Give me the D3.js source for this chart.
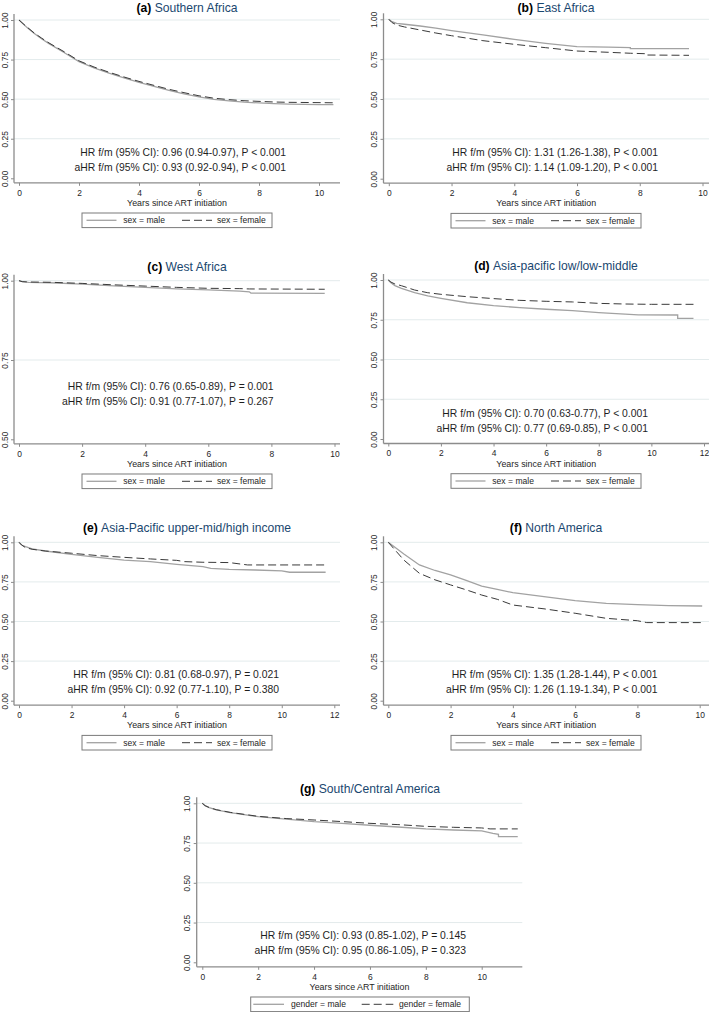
<!DOCTYPE html>
<html><head><meta charset="utf-8">
<script src="https://cdn.jsdelivr.net/npm/d3@7"></script>
<style>
body{margin:0;background:#fff}
svg{display:block}
text{font-family:"Liberation Sans",Arial,Helvetica,sans-serif}
</style>
</head><body>
<svg id="chart" width="709" height="1012"></svg>
<script>
// ---------------- DATA ----------------
const panelLetters = ["(a)","(b)","(c)","(d)","(e)","(f)","(g)"];
const regionNames = ["Southern Africa","East Africa","West Africa","Asia-pacific low/low-middle",
  "Asia-Pacific upper-mid/high income","North America","South/Central America"];
const hrLines = [
  "HR f/m (95% CI): 0.96 (0.94-0.97), P < 0.001",
  "HR f/m (95% CI): 1.31 (1.26-1.38), P < 0.001",
  "HR f/m (95% CI): 0.76 (0.65-0.89), P = 0.001",
  "HR f/m (95% CI): 0.70 (0.63-0.77), P < 0.001",
  "HR f/m (95% CI): 0.81 (0.68-0.97), P = 0.021",
  "HR f/m (95% CI): 1.35 (1.28-1.44), P < 0.001",
  "HR f/m (95% CI): 0.93 (0.85-1.02), P = 0.145"];
const ahrLines = [
  "aHR f/m (95% CI): 0.93 (0.92-0.94), P < 0.001",
  "aHR f/m (95% CI): 1.14 (1.09-1.20), P < 0.001",
  "aHR f/m (95% CI): 0.91 (0.77-1.07), P = 0.267",
  "aHR f/m (95% CI): 0.77 (0.69-0.85), P < 0.001",
  "aHR f/m (95% CI): 0.92 (0.77-1.10), P = 0.380",
  "aHR f/m (95% CI): 1.26 (1.19-1.34), P < 0.001",
  "aHR f/m (95% CI): 0.95 (0.86-1.05), P = 0.323"];
const maleLabels = ["sex = male","sex = male","sex = male","sex = male","sex = male","sex = male","gender = male"];
const femaleLabels = ["sex = female","sex = female","sex = female","sex = female","sex = female","sex = female","gender = female"];
const xAxisTitle = "Years since ART initiation";

const xTicks10 = [0,2,4,6,8,10];
const xTicks12 = [0,2,4,6,8,10,12];
const yTicksFull = [0,0.25,0.5,0.75,1];
const yTicksHalf = [0.5,0.75,1];

const maleA = [[0,1],[0.1,0.982],[0.25,0.956],[0.5,0.916],[0.75,0.882],[1,0.851],[1.5,0.795],[2,0.737],[2.5,0.698],[3,0.664],[3.5,0.634],[4,0.606],[4.5,0.581],[5,0.556],[5.5,0.534],[6,0.514],[6.5,0.499],[7,0.489],[7.5,0.481],[8,0.476],[8.5,0.472],[9,0.469],[9.5,0.467],[10,0.466],[10.48,0.465]];
const femaleA = [[0,1],[0.1,0.983],[0.25,0.958],[0.5,0.919],[0.75,0.886],[1,0.855],[1.5,0.8],[2,0.742],[2.5,0.703],[3,0.67],[3.5,0.64],[4,0.612],[4.5,0.587],[5,0.562],[5.5,0.541],[6,0.521],[6.5,0.506],[7,0.497],[7.5,0.49],[8,0.486],[8.5,0.482],[9,0.48],[9.5,0.479],[10,0.478],[10.48,0.477]];

const maleB = [[0,1],[0.1,0.985],[0.25,0.975],[0.5,0.969],[1,0.958],[1.5,0.944],[2,0.929],[3,0.902],[4,0.874],[5,0.849],[6,0.828],[7,0.826],[7.7,0.822],[7.7,0.816],[9.57,0.816]];
const femaleB = [[0,1],[0.1,0.98],[0.25,0.964],[0.5,0.952],[1,0.933],[1.5,0.914],[2,0.897],[3,0.866],[4,0.843],[5,0.822],[6,0.801],[7,0.793],[7.7,0.787],[8.2,0.784],[8.2,0.776],[9.57,0.774]];

const maleC = [[0,1],[0.1,0.997],[0.3,0.995],[1,0.9935],[2,0.9895],[3,0.984],[4,0.979],[5,0.974],[6,0.971],[7,0.967],[7.3,0.965],[7.35,0.961],[9.69,0.96]];
const femaleC = [[0,1],[0.1,0.997],[0.3,0.996],[1,0.995],[2,0.9915],[3,0.987],[4,0.983],[5,0.979],[6,0.976],[7,0.975],[7.3,0.974],[9.69,0.973]];

const maleD = [[0,1],[0.1,0.982],[0.25,0.965],[0.5,0.948],[1,0.92],[1.5,0.9],[2,0.885],[3,0.857],[4,0.839],[5,0.826],[6,0.816],[7,0.807],[8,0.795],[9,0.786],[9.5,0.781],[11,0.78],[11,0.759],[11.6,0.759]];
const femaleD = [[0,1],[0.1,0.987],[0.25,0.975],[0.5,0.964],[1,0.937],[1.5,0.92],[2,0.91],[3,0.895],[4,0.883],[5,0.872],[6,0.866],[7,0.862],[8,0.853],[9,0.849],[10,0.847],[11.6,0.847]];

const maleE = [[0,1],[0.1,0.983],[0.25,0.973],[0.5,0.958],[1,0.945],[2,0.924],[3,0.905],[4,0.888],[5,0.878],[6,0.861],[7,0.846],[7.3,0.836],[8,0.829],[9,0.825],[10,0.819],[10.3,0.811],[11.67,0.811]];
const femaleE = [[0,1],[0.1,0.983],[0.25,0.966],[0.5,0.956],[1,0.945],[2,0.931],[3,0.916],[4,0.905],[5,0.895],[6,0.886],[6.3,0.878],[7,0.874],[8,0.872],[8.7,0.857],[11.67,0.857]];

const maleF = [[0,1],[0.5,0.926],[1,0.857],[1.5,0.822],[2,0.794],[2.5,0.759],[3,0.724],[3.5,0.703],[4,0.682],[5,0.657],[6,0.632],[7,0.615],[8,0.606],[9,0.6],[10.08,0.598]];
const femaleF = [[0,1],[0.5,0.888],[1,0.804],[1.5,0.763],[2,0.731],[2.5,0.7],[3,0.667],[3.5,0.64],[4,0.604],[5,0.58],[6,0.552],[7,0.52],[8,0.505],[8.3,0.493],[10.08,0.493]];

const maleG = [[0,1],[0.1,0.985],[0.25,0.973],[0.5,0.958],[1,0.941],[2,0.916],[3,0.901],[4,0.885],[5,0.874],[6,0.862],[7,0.851],[8,0.839],[9,0.832],[10,0.826],[10.4,0.811],[10.6,0.805],[10.6,0.79],[11.29,0.79]];
const femaleG = [[0,1],[0.1,0.985],[0.25,0.973],[0.5,0.96],[1,0.943],[2,0.918],[3,0.904],[4,0.895],[5,0.885],[6,0.874],[7,0.866],[8,0.855],[9,0.849],[10,0.845],[10.3,0.839],[11.29,0.839]];

const maleSeries = [maleA,maleB,maleC,maleD,maleE,maleF,maleG];
const femaleSeries = [femaleA,femaleB,femaleC,femaleD,femaleE,femaleF,femaleG];
const xTickSets = [xTicks10,xTicks10,xTicks10,xTicks12,xTicks12,xTicks10,xTicks10];
const yTickSets = [yTicksFull,yTicksFull,yTicksHalf,yTicksFull,yTicksFull,yTicksFull,yTicksFull];

// ---------------- LAYOUT (pixels) ----------------
const layout = [
  {axisX:14,   x0:19,    xTm:319,   right:340,   yTop:20,    yBot:178.3, titleX:187, hrX:286,   hrY:151.7, legX:82,    legW:190},
  {axisX:383.5,x0:388.8, xTm:702.5, right:709,   yTop:19.3,  yBot:178.7, titleX:556, hrX:658,   hrY:151.7, legX:451,   legW:190},
  {axisX:14,   x0:19,    xTm:334.5, right:340,   yTop:280.7, yBot:439.3, titleX:187, hrX:273.5, hrY:385.7, legX:82,    legW:190},
  {axisX:383.5,x0:388.3, xTm:704,   right:709,   yTop:280,   yBot:439,   titleX:556, hrX:648,   hrY:412.7, legX:451,   legW:190},
  {axisX:14,   x0:19,    xTm:334.3, right:340,   yTop:542.3, yBot:700.7, titleX:187, hrX:279,   hrY:674,   legX:82,    legW:190},
  {axisX:383.5,x0:388.3, xTm:699.7, right:709,   yTop:542.3, yBot:700.7, titleX:556, hrX:657.5, hrY:674,   legX:451,   legW:190},
  {axisX:196.7,x0:202.3, xTm:481.7, right:522.3, yTop:803.3, yBot:962.3, titleX:370, hrX:466,   hrY:935,   legX:250.7, legW:218.6}
];
const legendParts = [
  {m0:4.5,m1:34.5,mt:41.3,f0:100,f1:130,ft:135},
  {m0:2.6,m1:33.3,mt:40.3,f0:111,f1:142.6,ft:148.3}
];

const MALE_COLOR = "#a2a2a2", FEMALE_COLOR = "#3a3a3a", AXIS_COLOR = "#8c8c8c",
      GRID_COLOR = "#e3ebec", TITLE_COLOR = "#1a476f", TEXT_COLOR = "#1e1e1e";

const svg = d3.select("#chart");
svg.append("rect").attr("width",709).attr("height",1012).attr("fill","#fff");

// font sizes fitted to the widths seen in the reference
function fitSize(str, target, weight) {
  const t = svg.append("text").style("font-size","10px").attr("font-weight", weight || "normal").text(str);
  const w = t.node().getComputedTextLength();
  t.remove();
  return 10 * target / w;
}
const HR_SIZE = fitSize(hrLines[0], 206);
const AXT_SIZE = fitSize(xAxisTitle, 100);
const TICK_SIZE = AXT_SIZE * 0.95;
const LEG_SIZE = fitSize(maleLabels[0], 41.7);
const TITLE_SIZE = fitSize(regionNames[0], 83);

layout.forEach((L, i) => {
  const g = svg.append("g");
  const xt = xTickSets[i], yt = yTickSets[i];
  const yMin = d3.min(yt);
  const x = d3.scaleLinear().domain([0, d3.max(xt)]).range([L.x0, L.xTm]);
  const y = d3.scaleLinear().domain([yMin, 1]).range([L.yBot, L.yTop]);
  const axisY = L.yBot + 4.5;

  // gridlines
  g.selectAll(".grid").data(yt.filter(v => v > yMin)).enter().append("line")
    .attr("x1", L.axisX).attr("x2", L.right)
    .attr("y1", d => y(d)).attr("y2", d => y(d))
    .attr("stroke", GRID_COLOR).attr("stroke-width", 1);

  // x axis
  const gx = g.append("g").attr("transform", `translate(0,${axisY})`)
    .call(d3.axisBottom(x).tickValues(xt).tickSize(3).tickSizeOuter(0).tickPadding(4).tickFormat(d3.format("d")));
  gx.select(".domain").remove();
  gx.selectAll(".tick line").attr("stroke", AXIS_COLOR).attr("stroke-width", 1);
  gx.selectAll(".tick text").attr("fill", TEXT_COLOR).style("font-size", TICK_SIZE + "px")
    .style("font-family", '"Liberation Sans",Arial,sans-serif');
  g.append("line").attr("x1", L.axisX).attr("x2", L.right).attr("y1", axisY).attr("y2", axisY)
    .attr("stroke", AXIS_COLOR).attr("stroke-width", 1.3);

  // y axis
  const gy = g.append("g").attr("transform", `translate(${L.axisX},0)`)
    .call(d3.axisLeft(y).tickValues(yt).tickSize(3).tickSizeOuter(0).tickFormat(d3.format(".2f")));
  gy.select(".domain").remove();
  gy.selectAll(".tick line").attr("stroke", AXIS_COLOR).attr("stroke-width", 1);
  gy.selectAll(".tick text").attr("fill", TEXT_COLOR).style("font-size", TICK_SIZE + "px")
    .style("font-family", '"Liberation Sans",Arial,sans-serif')
    .attr("transform", "rotate(-90)").attr("x", 0).attr("y", -6.5).attr("dy", 0)
    .attr("text-anchor", "middle");
  g.append("line").attr("x1", L.axisX).attr("x2", L.axisX).attr("y1", L.yTop - 6).attr("y2", axisY)
    .attr("stroke", AXIS_COLOR).attr("stroke-width", 1.3);

  // axis title
  g.append("text").attr("x", (L.axisX + L.right) / 2).attr("y", axisY + 23.2)
    .attr("text-anchor", "middle").attr("fill", TEXT_COLOR).style("font-size", AXT_SIZE + "px").text(xAxisTitle);

  // curves
  const line = d3.line().x(d => x(d[0])).y(d => y(d[1]));
  g.append("path").datum(maleSeries[i]).attr("d", line).attr("fill", "none")
    .attr("stroke", MALE_COLOR).attr("stroke-width", 1.3);
  g.append("path").datum(femaleSeries[i]).attr("d", line).attr("fill", "none")
    .attr("stroke", FEMALE_COLOR).attr("stroke-width", 1).attr("stroke-dasharray", "8,4");

  // HR text
  g.append("text").attr("x", L.hrX).attr("y", L.hrY + 4).attr("text-anchor", "end")
    .attr("fill", TEXT_COLOR).style("font-size", HR_SIZE + "px").text(hrLines[i]);
  g.append("text").attr("x", L.hrX).attr("y", L.hrY + 15 + 4).attr("text-anchor", "end")
    .attr("fill", TEXT_COLOR).style("font-size", HR_SIZE + "px").text(ahrLines[i]);

  // title
  const t = g.append("text").attr("x", L.titleX).attr("y", Math.max(L.yTop - 10, 11.8)).attr("text-anchor", "middle")
    .style("font-size", TITLE_SIZE + "px");
  t.append("tspan").attr("font-weight", "bold").attr("fill", "#000").text(panelLetters[i] + " ");
  t.append("tspan").attr("fill", TITLE_COLOR).text(regionNames[i]);

  // legend
  const lp = legendParts[i === 6 ? 1 : 0];
  const lc = axisY + 37.5;
  const lg = g.append("g").attr("transform", `translate(${L.legX},${lc})`);
  lg.append("rect").attr("x", 0).attr("y", -7.3).attr("width", L.legW).attr("height", 14.6)
    .attr("fill", "#fff").attr("stroke", "#7a7a7a").attr("stroke-width", 1);
  lg.append("line").attr("x1", lp.m0).attr("x2", lp.m1).attr("y1", 0).attr("y2", 0)
    .attr("stroke", MALE_COLOR).attr("stroke-width", 1.3);
  lg.append("text").attr("x", lp.mt).attr("y", 3).attr("fill", TEXT_COLOR).style("font-size", LEG_SIZE + "px").text(maleLabels[i]);
  lg.append("line").attr("x1", lp.f0).attr("x2", lp.f1).attr("y1", 0).attr("y2", 0)
    .attr("stroke", FEMALE_COLOR).attr("stroke-width", 1).attr("stroke-dasharray", "8,4");
  lg.append("text").attr("x", lp.ft).attr("y", 3).attr("fill", TEXT_COLOR).style("font-size", LEG_SIZE + "px").text(femaleLabels[i]);
});
</script>
</body></html>
